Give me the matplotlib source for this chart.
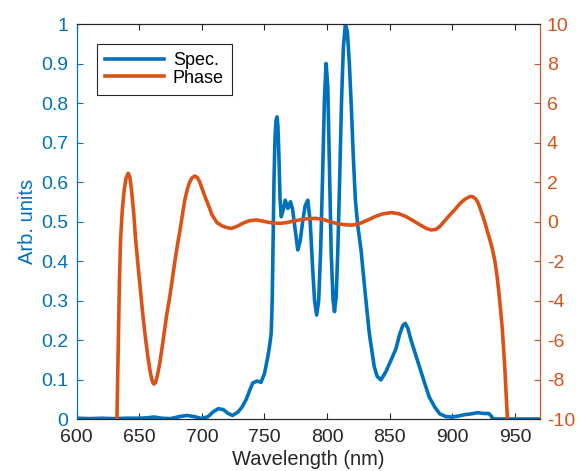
import matplotlib
matplotlib.use('Agg')
import matplotlib.pyplot as plt

# spectrum (left axis)
spec_wl = [600, 610, 620, 630, 640, 650, 656, 662, 668, 675, 682, 688, 694,
           700, 705, 709, 713, 717, 721, 724.6, 729, 732, 735.5, 738.5, 740.6,
           744, 747.3, 750.1, 752.7, 754, 755.4, 756.2, 756.9, 757.6, 758.4,
           759.2, 760, 760.8, 761.6, 762.4, 763.4, 765, 766.6, 768.7, 770.8,
           772.5, 774.5, 776.6, 778.5, 780.5, 782.5, 784.6, 786.5, 788.5, 790,
           791.7, 793.3, 794.8, 796.3, 797.9, 799.2, 800.6, 802, 803.3, 804.8,
           805.9, 807.3, 808.6, 810, 811.5, 813, 814.6, 816.2, 817.8, 819.5,
           821, 822.6, 824.5, 827.1, 830.4, 833.7, 837.7, 840, 843, 847,
           852.3, 855, 858, 860.5, 862.4, 864.5, 867, 870, 874, 878, 881.5,
           886, 890, 895, 900, 904, 910, 915, 920, 925, 929, 931, 932.5, 940,
           950, 960, 970]
spec_val = [0.002, 0.001, 0.002, 0.001, 0.002, 0.002, 0.003, 0.005, 0.002,
            0.001, 0.006, 0.009, 0.006, 0.001, 0.006, 0.018, 0.026, 0.024,
            0.014, 0.009, 0.018, 0.03, 0.05, 0.075, 0.091, 0.096, 0.093, 0.116,
            0.158, 0.183, 0.217, 0.30, 0.45, 0.6, 0.71, 0.755, 0.765, 0.74,
            0.66, 0.56, 0.512, 0.53, 0.554, 0.533, 0.55, 0.53, 0.48, 0.428,
            0.45, 0.5, 0.54, 0.554, 0.5, 0.38, 0.3, 0.263, 0.3, 0.42, 0.6,
            0.81, 0.9, 0.84, 0.62, 0.42, 0.3, 0.272, 0.31, 0.43, 0.6, 0.8,
            0.94, 1.0, 0.98, 0.9, 0.78, 0.66, 0.554, 0.49, 0.428, 0.32, 0.217,
            0.132, 0.108, 0.099, 0.12, 0.158, 0.178, 0.215, 0.237, 0.242, 0.23,
            0.2, 0.17, 0.13, 0.09, 0.056, 0.03, 0.013, 0.006, 0.005, 0.007,
            0.011, 0.013, 0.016, 0.014, 0.014, 0.008, 0.0, 0.0, 0.0, 0.0, 0.0]

# phase (right axis)
phase_wl = [632.2, 633.2, 634.2, 635.1, 636.5, 638, 639.5, 641.2, 642.5, 644,
            645.5, 647, 649, 651, 653, 655, 657, 659, 660.5, 661.7, 663,
            664.5, 666.4, 668, 670, 672, 674.4, 676.5, 678.5, 680.5, 682.4,
            684.5, 686.4, 688.3, 690, 692, 694.3, 696, 698, 700, 702, 703.6,
            706, 708, 712, 716, 719.6, 723.5, 728, 733, 738, 743.5, 748, 753,
            758, 763, 768, 773, 778, 784, 791, 797, 803, 809, 815, 820.5, 826,
            832, 838, 844, 851, 857, 863, 869, 875, 879, 883, 887, 890.5,
            894.5, 899, 902, 904, 906, 908, 910, 912, 914.7, 916.5, 918.5,
            920, 921.5, 923, 924.5, 926, 928, 930, 932, 934, 936, 938, 940,
            942, 944]
phase_val = [-10, -6.5, -3.0, -0.94, 0.6, 1.6, 2.2, 2.44, 2.25, 1.5, 0.5,
             -0.8, -2.2, -3.5, -4.8, -5.9, -6.9, -7.7, -8.1, -8.23, -8.15,
             -7.8, -7.18, -6.5, -5.6, -4.7, -3.8, -2.9, -2.0, -1.2, -0.5, 0.35,
             1.09, 1.6, 1.95, 2.2, 2.3, 2.25, 2.05, 1.7, 1.35, 1.09, 0.7, 0.35,
             -0.05, -0.22, -0.3, -0.35, -0.25, -0.08, 0.04, 0.08, 0.03, -0.04,
             -0.08, -0.09, -0.05, 0.02, 0.08, 0.14, 0.16, 0.1, -0.02, -0.12,
             -0.17, -0.18, -0.1, 0.06, 0.24, 0.38, 0.45, 0.4, 0.25, 0.03, -0.2,
             -0.34, -0.43, -0.4, -0.22, 0.08, 0.4, 0.6, 0.75, 0.9, 1.02, 1.12,
             1.2, 1.27, 1.25, 1.15, 1.02, 0.8, 0.52, 0.25, -0.05, -0.5, -0.92,
             -1.4, -2.0, -2.9, -4.1, -5.5, -7.5, -10]

blue = '#0072BD'
orange = '#D95319'
dark = '#262626'
plt.rcParams['font.family'] = ['Liberation Sans', 'DejaVu Sans']
plt.rcParams['axes.unicode_minus'] = False

fig = plt.figure(figsize=(5.79, 4.71), dpi=100)
ax = fig.add_axes([0.1323, 0.1104, 0.8003, 0.8386])
ax2 = ax.twinx()

l1, = ax.plot(spec_wl, spec_val, color=blue, lw=2.6, label='Spec.')
l2, = ax2.plot(phase_wl, phase_val, color=orange, lw=2.6, label='Phase')

ax.set_xlim(600, 970)
ax.set_ylim(0, 1)
ax2.set_ylim(-10, 10)
ax.set_xticks(range(600, 951, 50))
ax.set_yticks([i / 10 for i in range(11)])
ax.set_yticklabels(['0'] + ['0.%d' % i for i in range(1, 10)] + ['1'])
ax2.set_yticks(range(-10, 11, 2))

ax.tick_params(axis='x', direction='in', top=True, labelsize=14, length=4,
               colors=dark, pad=7)
ax.tick_params(axis='y', direction='in', labelsize=14, length=4,
               colors=blue, pad=6)
ax2.tick_params(axis='y', direction='in', labelsize=14, length=4,
                colors=orange, pad=5)

for a in (ax, ax2):
    a.spines['left'].set_color(blue)
    a.spines['right'].set_color(orange)
    a.spines['top'].set_color(dark)
    a.spines['bottom'].set_color(dark)

ax.set_xlabel('Wavelength (nm)', fontsize=14.5, color=dark, labelpad=3)
ax.set_ylabel('Arb. units', fontsize=14.5, color=blue, labelpad=3)

leg = ax.legend([l1, l2], ['Spec.', 'Phase'], loc='upper left',
                bbox_to_anchor=(0.044, 0.95), fontsize=13, handlelength=3.25,
                fancybox=False, framealpha=1, edgecolor=dark,
                borderpad=0.45, labelspacing=0.05, handletextpad=0.5,
                borderaxespad=0)
leg.get_frame().set_linewidth(0.8)

plt.savefig('out.png', dpi=100)
